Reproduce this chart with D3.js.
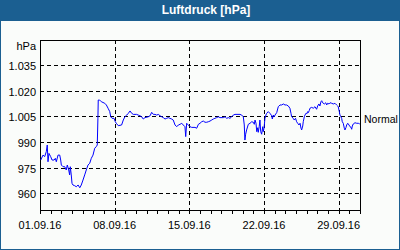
<!DOCTYPE html>
<html><head><meta charset="utf-8">
<script src="https://cdn.jsdelivr.net/npm/d3@7"></script>
<style>
body{margin:0;background:#fff}
svg{display:block}
text{font-family:"Liberation Sans",Arial,sans-serif}
</style>
</head><body>
<svg id="c" width="400" height="250"></svg>
<script>
const title = "Luftdruck [hPa]";
const unitLabel = "hPa";
const normalLabel = "Normal";
const normalValue = 1005;
const startDate = "01.09.16";
const endDate = "01.10.16";
// days since 01.09.2016 00:00
const days = [
0.07,0.28,0.44,0.59,0.68,0.75,0.84,1.00,1.13,1.32,1.44,1.53,1.69,1.85,1.94,2.00,2.16,2.32,2.46,2.56,2.69,2.78,2.84,2.93,3.00,3.09,3.25,3.40,3.57,3.73,3.87,4.03,4.19,4.34,4.50,4.66,4.81,4.97,5.13,5.27,5.37,5.43,5.46,5.59,5.75,6.07,6.22,6.38,6.54,6.63,6.75,6.94,7.06,7.15,7.34,
7.65,7.81,7.96,8.13,8.28,8.44,8.60,8.75,9.06,9.21,9.37,9.53,9.68,9.84,10.15,10.32,10.47,10.63,10.78,10.94,11.09,11.25,11.41,11.56,11.72,11.88,12.02,12.18,12.34,12.49,12.66,12.82,12.97,13.13,13.29,13.43,13.59,13.66,13.75,13.90,14.06,14.22,14.53,14.69,
14.85,15.00,15.16,15.31,15.47,15.63,15.78,15.94,16.10,16.25,16.40,16.56,16.71,16.87,17.19,17.35,17.50,17.66,17.81,17.97,18.12,18.28,18.75,18.91,19.06,19.15,19.21,19.28,19.37,19.53,19.69,19.85,20.00,20.09,20.16,20.25,20.32,20.41,20.46,20.55,20.62,20.69,20.78,20.88,20.93,21.00,21.09,21.18,21.25,21.40,21.56,21.72,21.78,21.87,21.97,22.03,
22.19,22.34,22.50,22.66,22.81,22.97,23.12,23.28,23.43,23.53,23.59,23.74,23.84,23.96,24.06,24.16,24.28,24.38,24.47,24.53,24.63,24.68,24.78,24.84,24.94,25.00,25.09,25.15,25.24,25.31,25.47,25.62,25.78,25.93,26.03,26.15,26.24,26.34,26.41,26.50,26.66,26.79,26.88,26.97,27.09,27.19,27.34,27.50,27.65,27.81,27.91,27.96,28.06,28.12,28.21,28.28,28.34,28.43,28.53,28.59,28.69,28.75,28.85,28.97,29.06,29.16,29.22,29.28,29.37,29.53,29.69,29.84,29.98
];
const pressure = [
979.8,982.7,981.8,984.7,988.6,978.8,983.7,981.8,979.8,979.8,980.8,978.8,982.7,982.7,979.8,976.9,975.9,975.9,974.0,976.9,974.0,971.1,975.9,971.1,966.2,965.2,964.8,964.2,965.2,963.6,965.2,968.1,971.1,974.0,976.9,977.9,980.8,982.7,986.7,987.6,988.6,1004.2,1014.9,1014.9,1013.9,1013.0,1012.0,1010.1,1008.1,1005.1,1004.2,1004.2,1002.2,1001.3,999.9,
1000.3,1003.2,1005.1,1006.1,1007.1,1008.5,1007.1,1006.5,1006.5,1006.1,1005.7,1005.1,1003.8,1004.6,1005.1,1005.7,1007.7,1006.5,1006.5,1006.1,1006.5,1005.7,1005.1,1004.6,1003.8,1004.2,1004.6,1004.2,1003.8,1003.2,1000.3,999.3,1000.3,1000.7,1001.3,1000.3,999.3,993.5,1001.3,1000.3,999.3,998.9,998.9,998.4,
1000.7,1001.3,1002.2,1002.6,1001.9,1001.9,1002.2,1002.6,1003.2,1003.8,1004.2,1004.6,1005.1,1004.6,1004.6,1005.1,1004.2,1004.6,1004.2,1005.1,1006.1,1006.5,1006.5,1006.1,1005.1,1000.3,991.5,994.9,997.4,1000.7,1001.3,1002.2,1001.9,1000.7,1003.2,1001.3,996.4,998.7,996.0,999.3,1003.2,996.4,994.9,999.3,996.4,998.4,1004.2,1006.1,1007.1,1008.1,1007.1,1005.7,1003.8,1006.1,1005.1,1006.1,
1007.5,1011.0,1012.0,1012.0,1012.6,1012.0,1012.0,1011.4,1010.1,1007.1,1005.1,1004.2,1003.2,1004.2,1002.2,1001.3,1000.3,1001.3,998.4,997.4,999.7,1002.2,1005.1,1006.1,1007.1,1006.7,1008.1,1007.5,1008.7,1010.1,1010.6,1010.1,1011.0,1009.5,1011.4,1012.6,1011.4,1013.9,1014.5,1013.3,1012.6,1013.3,1012.0,1013.0,1012.6,1013.3,1013.0,1012.6,1013.0,1012.0,1011.4,1011.0,1008.1,1006.1,1005.1,1004.2,1002.2,1001.3,998.4,997.4,998.9,1000.3,1001.3,1000.3,999.3,998.9,997.8,999.7,1000.9,1001.6,1001.3,1001.3,1000.9
];
const yTicks = [960, 975, 990, 1005, 1020, 1035];
const yDomain = [950, 1050];
const xTickLabels = ["01.09.16", "08.09.16", "15.09.16", "22.09.16", "29.09.16"];

const W = 400, H = 250;
const L = 40, R = 360, T = 40, B = 211;
const parse = d3.timeParse("%d.%m.%y");
const t0 = parse(startDate), t1 = parse(endDate);
const x = d3.scaleTime().domain([t0, t1]).range([L, R]);
const y = d3.scaleLinear().domain(yDomain).range([B, T]);
const de = d3.formatLocale({decimal: ",", thousands: ".", grouping: [3], currency: ["", " €"]});
const fmtY = de.format(",");

const svg = d3.select("#c");
svg.append("rect").attr("width", W).attr("height", H).attr("fill", "#1b5f91");
svg.append("rect").attr("x", 1).attr("y", 21).attr("width", 398).attr("height", 228).attr("fill", "#fafcfa");
svg.append("text").attr("x", 206).attr("y", 14).attr("text-anchor", "middle")
  .attr("fill", "#fff").attr("font-weight", "bold").attr("font-size", 12).text(title);

const g = svg.append("g").attr("shape-rendering", "crispEdges");
// horizontal grid
g.selectAll(".hg").data(yTicks).join("line")
  .attr("x1", L).attr("x2", R)
  .attr("y1", d => Math.floor(y(d)) + 0.5).attr("y2", d => Math.floor(y(d)) + 0.5)
  .attr("stroke", "#000").attr("stroke-dasharray", "4,3");
// vertical grid (weekly)
const weekDates = xTickLabels.map(parse);
g.selectAll(".vg").data(weekDates.slice(1)).join("line")
  .attr("x1", d => Math.round(x(d)) + 0.5).attr("x2", d => Math.round(x(d)) + 0.5)
  .attr("y1", T).attr("y2", B)
  .attr("stroke", "#000").attr("stroke-dasharray", "4,3");
// daily ticks
const dayTicks = d3.timeDay.range(t0, d3.timeDay.offset(t1, 1));
g.selectAll(".dt").data(dayTicks).join("line")
  .attr("x1", d => Math.round(x(d)) + 0.5).attr("x2", d => Math.round(x(d)) + 0.5)
  .attr("y1", B).attr("y2", B + 3).attr("stroke", "#000");
// frame
g.append("rect").attr("x", L + 0.5).attr("y", T + 0.5).attr("width", R - L).attr("height", B - T - 1)
  .attr("fill", "none").attr("stroke", "#000");

// x labels
svg.selectAll(".xl").data(weekDates).join("text")
  .attr("x", d => x(d)).attr("y", 229).attr("text-anchor", "middle")
  .attr("font-size", 11).attr("fill", "#000").text((d, i) => xTickLabels[i]);
// y labels
svg.selectAll(".yl").data(yTicks).join("text")
  .attr("x", 36).attr("y", d => Math.floor(y(d)) + 4.5).attr("text-anchor", "end")
  .attr("font-size", 11).attr("fill", "#000").text(d => fmtY(d));
svg.append("text").attr("x", 36).attr("y", 49.5).attr("text-anchor", "end")
  .attr("font-size", 11).attr("fill", "#000").text(unitLabel);
svg.append("text").attr("x", 364).attr("y", y(normalValue) + 6).attr("font-size", 10.5)
  .attr("fill", "#000").text(normalLabel);

// data line
svg.append("clipPath").attr("id", "clip").append("rect")
  .attr("x", L).attr("y", T).attr("width", R - L).attr("height", B - T);
const pts = days.map((d, i) => [new Date(t0.getTime() + d * 86400000), pressure[i]]);
const line = d3.line().x(d => x(d[0])).y(d => y(d[1]));
svg.append("path").datum(pts).attr("d", line).attr("clip-path", "url(#clip)")
  .attr("fill", "none").attr("stroke", "#0000ff").attr("stroke-width", 1);
</script>
</body></html>
